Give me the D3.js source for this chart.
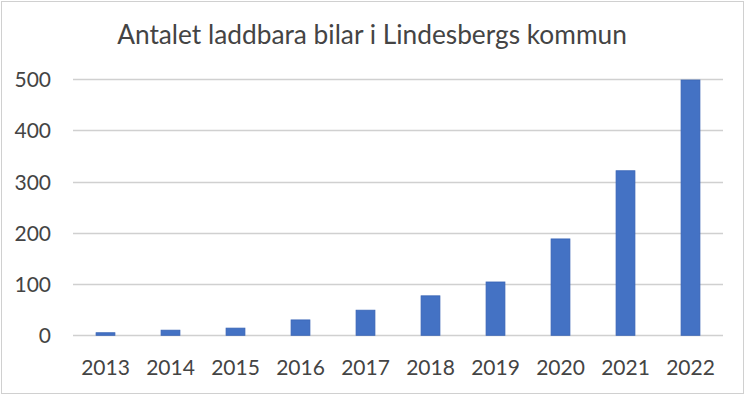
<!DOCTYPE html>
<html><head><meta charset="utf-8">
<script src="https://cdn.jsdelivr.net/npm/d3@7"></script>
<style>html,body{margin:0;padding:0;background:#fff;}svg{display:block;}</style>
</head><body>
<script>
const title = "Antalet laddbara bilar i Lindesbergs kommun";
const years = ["2013","2014","2015","2016","2017","2018","2019","2020","2021","2022"];
const values = [5, 10, 14, 30, 49, 77, 104, 188, 321, 498];
const yTicks = [0, 100, 200, 300, 400, 500];

const W = 746, H = 395;
const FONT = "Lato, 'Open Sans', sans-serif";
const svg = d3.select("body").append("svg").attr("width", W).attr("height", H);

svg.append("rect").attr("x", 1.5).attr("y", 1.5).attr("width", 742).attr("height", 392)
  .attr("fill", "#fff").attr("stroke", "#d0d0d0").attr("stroke-width", 1);

const x = d3.scaleBand().domain(years).range([73, 723]).paddingInner(0.71).paddingOuter(0.355);
const y = d3.scaleLinear().domain([0, 500]).range([335.3, 79]);

// gridlines
svg.append("g").selectAll("line").data(yTicks).join("line")
  .attr("x1", 73).attr("x2", 723)
  .attr("y1", d => Math.round(y(d)) + 0.5).attr("y2", d => Math.round(y(d)) + 0.5)
  .attr("stroke", "#d0d0d0").attr("stroke-width", 1.3);

// y axis labels
const yAxis = d3.axisLeft(y).tickValues(yTicks).tickSize(0).tickPadding(0);
const gy = svg.append("g").attr("transform", "translate(51,0)").call(yAxis);
gy.select(".domain").remove();
gy.selectAll("text").attr("font-family", FONT).attr("font-size", 21).attr("fill", "#444").attr("dy", "0.36em");

// x axis labels
const xAxis = d3.axisBottom(x).tickSize(0).tickPadding(0);
const gx = svg.append("g").attr("transform", "translate(0,375)").call(xAxis);
gx.select(".domain").remove();
gx.selectAll("text").attr("font-family", FONT).attr("font-size", 21).attr("fill", "#444").attr("dy", 0);

// bars
svg.append("g").selectAll("rect").data(values).join("rect")
  .attr("x", (d, i) => x(years[i]))
  .attr("width", x.bandwidth())
  .attr("y", d => y(d))
  .attr("height", d => y(0) - y(d))
  .attr("fill", "#4472C4")
  .attr("stroke", "#3763b5").attr("stroke-width", 0.8);

// title
const t = svg.append("text").attr("x", 372).attr("y", 44).attr("text-anchor", "middle")
  .attr("font-family", FONT).attr("font-size", 24).attr("fill", "#444").text(title);
const tw = t.node().getComputedTextLength();
const target = 510;
t.attr("font-size", 24 * Math.min(1.3, Math.max(0.8, target / tw)));
</script>
</body></html>
